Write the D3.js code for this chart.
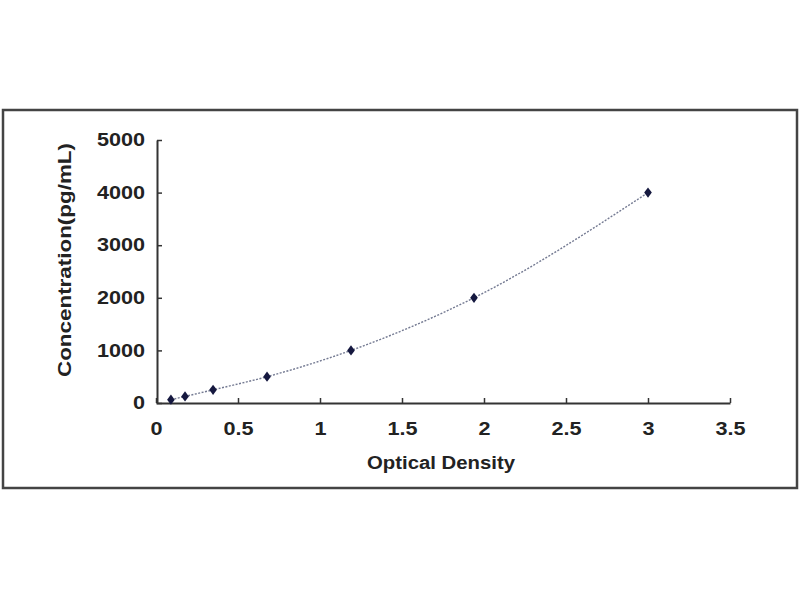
<!DOCTYPE html>
<html><head><meta charset="utf-8">
<script src="https://cdn.jsdelivr.net/npm/d3@7/dist/d3.min.js"></script>
<style>body{margin:0;background:#fff}svg{display:block}text{font-family:"Liberation Sans",Arial,sans-serif;font-weight:bold;fill:#222}</style>
</head><body><svg id="c" width="800" height="600"></svg>
<script>
const od = [0.091, 0.177, 0.348, 0.677, 1.189, 1.939, 3.0];
const conc = [62.5, 125, 250, 500, 1000, 2000, 4000];
const xTicks = [0, 0.5, 1, 1.5, 2, 2.5, 3, 3.5];
const yTicks = [0, 1000, 2000, 3000, 4000, 5000];
const xTitle = "Optical Density";
const yTitle = "Concentration(pg/mL)";

const svg = d3.select("#c");
svg.append("rect").attr("x",3).attr("y",110).attr("width",794).attr("height",378)
  .attr("fill","#fff").attr("stroke","#444").attr("stroke-width",2.5);

const x = d3.scaleLinear().domain([0,3.5]).range([156,730]);
const y = d3.scaleLinear().domain([0,5000]).range([403,140]);

const gx = svg.append("g").attr("transform","translate(0,403)")
  .call(d3.axisBottom(x).tickValues(xTicks).tickFormat(d3.format("")).tickSizeInner(-5).tickSizeOuter(0).tickPadding(19));
const gy = svg.append("g").attr("transform","translate(157,0)")
  .call(d3.axisLeft(y).tickValues(yTicks).tickFormat(d3.format("")).tickSizeInner(-5).tickSizeOuter(0).tickPadding(12));
[gx,gy].forEach(g=>{
  g.select(".domain").attr("stroke","#333").attr("stroke-width",2);
  g.selectAll(".tick line").attr("stroke","#333").attr("stroke-width",1.5);
  g.selectAll(".tick text").attr("font-size",18).attr("fill","#333").attr("font-family","Liberation Sans, Arial, sans-serif").attr("font-weight","bold")
    .attr("transform","scale(1.2,1)");
});
gx.selectAll(".tick text").attr("transform",null).each(function(){
  const t=d3.select(this); t.attr("textLength", this.getComputedTextLength()*1.2).attr("lengthAdjust","spacingAndGlyphs");
});
gy.selectAll(".tick text").attr("transform",null).each(function(){
  const t=d3.select(this); t.attr("textLength", this.getComputedTextLength()*1.2).attr("lengthAdjust","spacingAndGlyphs");
});

const pts = od.map((v,i)=>[v,conc[i]]);
svg.append("path").datum(pts)
  .attr("d", d3.line().x(d=>x(d[0])).y(d=>y(d[1])).curve(d3.curveMonotoneX))
  .attr("fill","none").attr("stroke","#747a92").attr("stroke-width",1.4).attr("stroke-dasharray","2,1.5");

svg.append("g").selectAll("path").data(pts).join("path")
  .attr("transform",d=>`translate(${x(d[0])},${y(d[1])}) scale(1.3,1)`)
  .attr("d", d3.symbol(d3.symbolDiamond, 30))
  .attr("fill","#15183f");

svg.append("text").attr("x",441).attr("y",469).attr("text-anchor","middle").attr("font-size",18).attr("fill","#333")
  .attr("textLength",148).attr("lengthAdjust","spacingAndGlyphs").text(xTitle);
svg.append("text").attr("transform","translate(71,260) rotate(-90)").attr("text-anchor","middle").attr("font-size",18).attr("fill","#333")
  .attr("textLength",234).attr("lengthAdjust","spacingAndGlyphs").text(yTitle);
</script></body></html>
